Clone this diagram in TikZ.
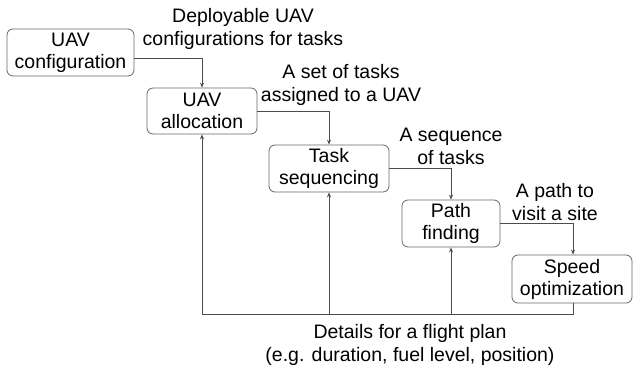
\documentclass[tikz,border=0pt]{standalone}
\usepackage{fontspec}
\setmainfont{Liberation Sans}
\usetikzlibrary{arrows.meta}
\begin{document}
\begin{tikzpicture}[x=1pt,y=-1pt,
  box/.style={draw=black!60, line width=0.8pt, rounded corners=6pt, align=center, inner sep=0pt,
    font=\fontsize{19.5}{22}\selectfont},
  lbl/.style={align=center, inner sep=0pt, font=\fontsize{19.5}{23}\selectfont},
  conn/.style={draw=black!70, line width=0.8pt, -{Stealth[length=5pt,width=4pt]}}]
\useasboundingbox (0,0) rectangle (633,374);
\node[box, minimum width=127pt, minimum height=47pt] (conf) at (70.5,52.5) {UAV\\configuration};
\node[box, minimum width=110pt, minimum height=46pt] (alloc) at (202,111) {UAV\\allocation};
\node[box, minimum width=120pt, minimum height=47pt] (seq) at (329,168.5) {Task\\sequencing};
\node[box, minimum width=98pt, minimum height=47pt] (path) at (451,223.5) {Path\\finding};
\node[box, minimum width=120pt, minimum height=48pt] (speed) at (572,279) {Speed\\optimization};
\node[lbl] (l1) at (243,29) {Deployable UAV\\configurations for tasks};
\node[lbl] (l2) at (341,85) {A set of tasks\\assigned to a UAV};
\node[lbl] (l3) at (451,146) {A sequence\\of tasks};
\node[lbl] (l4) at (555,202) {A path to\\visit a site};
\node[lbl] (l5) at (410,345) {Details for a flight plan\\(e.g. duration, fuel level, position)};
\coordinate (fb) at (0,314);
\draw[conn] ([yshift=-6pt]conf.east) -| (alloc.north);
\draw[conn] (alloc.east) -| (seq.north);
\draw[conn] (seq.east) -| (path.north);
\draw[conn] (path.east) -| ([xshift=1pt]speed.north);
\draw[draw=black!70, line width=0.8pt] ([xshift=1pt]speed.south) |- (alloc.south |- fb);
\draw[conn] (alloc.south |- fb) -- (alloc.south);
\draw[conn] (seq.south |- fb) -- (seq.south);
\draw[conn] (path.south |- fb) -- (path.south);
\end{tikzpicture}
\end{document}
